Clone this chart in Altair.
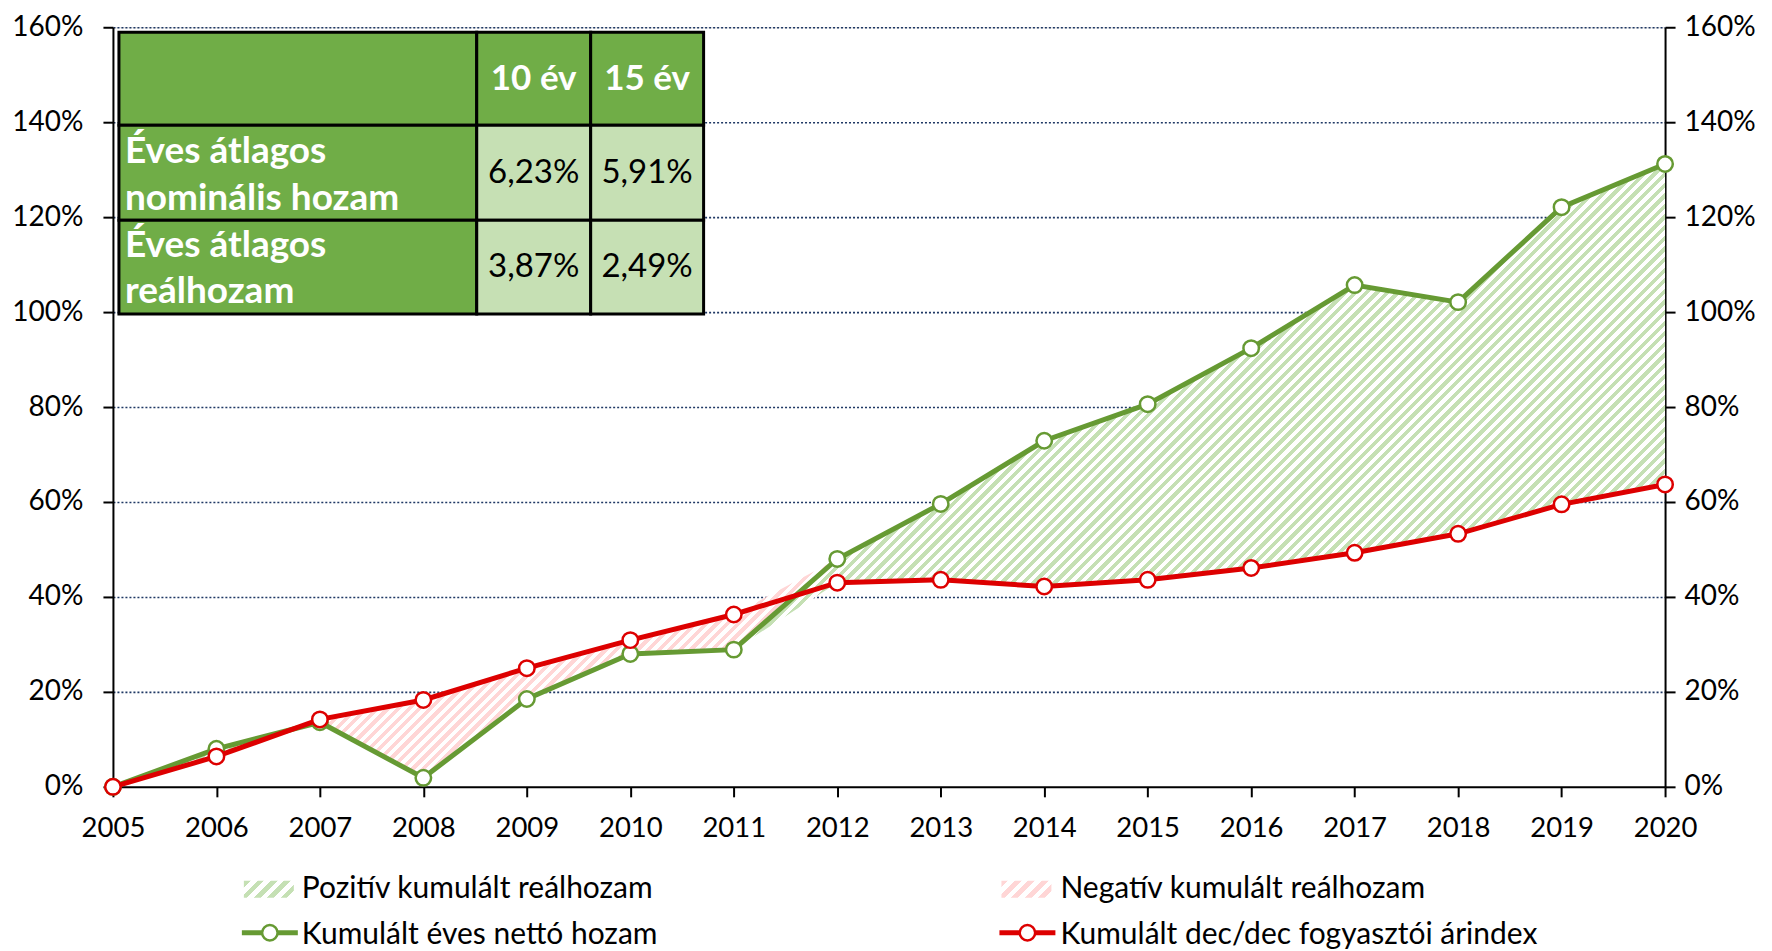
import altair as alt
import pandas as pd

# ---------------- data ----------------
years = list(range(2005, 2021))
nominal = [0.0, 8.0, 13.6, 1.9, 18.5, 28.0, 28.9, 48.0, 59.6, 72.9, 80.6, 92.4, 105.7, 102.1, 122.1, 131.2]
cpi = [0.0, 6.4, 14.2, 18.3, 25.0, 30.9, 36.3, 43.0, 43.6, 42.2, 43.6, 46.1, 49.3, 53.3, 59.5, 63.7]

table_cols = ["10 év", "15 év"]
table_rows = [["Éves átlagos", "nominális hozam"], ["Éves átlagos", "reálhozam"]]
table_vals = [["6,23%", "5,91%"], ["3,87%", "2,49%"]]

legend_labels = ["Pozitív kumulált reálhozam", "Negatív kumulált reálhozam",
                 "Kumulált éves nettó hozam", "Kumulált dec/dec fogyasztói árindex"]

# ---------------- styles ----------------
GREEN = "#669a33"
RED = "#dd0000"
HATCH_G = "#c5e0b4"
HATCH_R = "#ffd6d6"
DARK = "#70ad47"
LIGHT = "#c6e0b4"
FONT = "Lato"
W, H = 1553, 760
TOP = 19
PAGE0 = 8 + TOP  # page y of plot top


def py(page_y):
    return page_y - PAGE0


df = pd.DataFrame({"year": years,
                   "nom": [v / 100 for v in nominal],
                   "cpi": [v / 100 for v in cpi]})
df["base"] = df[["nom", "cpi"]].min(axis=1)
df["pos_top"] = df["base"] + (df["nom"] - df["cpi"]).clip(lower=0)
df["neg_top"] = df["pos_top"] + (df["cpi"] - df["nom"]).clip(lower=0)


def stripes(color, w, h, period, duty=0.5):
    r = h / w
    s = (1 + r) / (1 + r * r)
    length = (w + h) / 2 ** 0.5
    n = max(1, int(length / period))
    stops = []
    for i in range(n):
        a = round(i / n, 6)
        b = round((i + duty) / n, 6)
        c = round((i + 1) / n, 6)
        stops += [alt.GradientStop(offset=a, color=color),
                  alt.GradientStop(offset=b, color=color),
                  alt.GradientStop(offset=b, color="white"),
                  alt.GradientStop(offset=c, color="white")]
    return alt.Gradient(gradient="linear", stops=stops, x1=0, y1=0, x2=s, y2=s * r)


area_h = max(df["neg_top"].max(), df["pos_top"].max()) / 1.6 * H
grad_g = stripes(HATCH_G, W, area_h, 7.5)
grad_r = stripes(HATCH_R, W, area_h, 7.5)
sw_w, sw_h = 50, 17
grad_g_sw = stripes(HATCH_G, sw_w, sw_h, 9)
grad_r_sw = stripes(HATCH_R, sw_w, sw_h, 9)

xscale = alt.Scale(domain=[2005, 2020], nice=False, zero=False)
yscale = alt.Scale(domain=[0, 1.6], nice=False, zero=True)

X = alt.X("year:Q", scale=xscale,
          axis=alt.Axis(values=years, format="d", title=None, grid=False,
                        tickSize=10, tickColor="black", tickWidth=2,
                        domainColor="black", domainWidth=2,
                        labelPadding=18, labelFontSize=27.5, labelFont=FONT,
                        labelColor="black", labelFlush=False))

ticks = [0, 0.2, 0.4, 0.6, 0.8, 1.0, 1.2, 1.4, 1.6]


def yaxis(orient, pad):
    return alt.Axis(orient=orient, values=ticks, format=".0%", title=None, grid=False,
                    tickSize=10, tickColor="black", tickWidth=2,
                    domainColor="black", domainWidth=2,
                    labelPadding=pad, labelFontSize=28, labelFont=FONT,
                    labelColor="black")


grid_axis = alt.Axis(orient="left", values=ticks[1:], title=None, grid=True,
                     labels=False, ticks=False, domain=False,
                     gridDash=[2, 2], gridColor="#1f3864", gridWidth=1.6)

base = alt.Chart(df)

green_area = base.mark_area(fill=grad_g, opacity=1).encode(
    x=X, y=alt.Y("base:Q", scale=yscale, axis=grid_axis), y2="pos_top:Q")
red_area = base.mark_area(fill=grad_r, opacity=1).encode(
    x=X, y=alt.Y("pos_top:Q", scale=yscale, axis=yaxis("left", 20)), y2="neg_top:Q")
green_line = base.mark_line(color=GREEN, strokeWidth=5).encode(
    x=X, y=alt.Y("nom:Q", scale=yscale, axis=yaxis("right", 9)))
green_pts = base.mark_point(shape="circle", filled=True, fill="white", stroke=GREEN,
                            strokeWidth=2.5, size=240, opacity=1).encode(
    x=X, y=alt.Y("nom:Q", scale=yscale, axis=None))
red_line = base.mark_line(color=RED, strokeWidth=5).encode(
    x=X, y=alt.Y("cpi:Q", scale=yscale, axis=None))
red_pts = base.mark_point(shape="circle", filled=True, fill="white", stroke=RED,
                          strokeWidth=2.5, size=240, opacity=1).encode(
    x=X, y=alt.Y("cpi:Q", scale=yscale, axis=None))

layers = [green_area, red_area, green_line, green_pts, red_line, red_pts]

one = pd.DataFrame({"k": [0]})

# ---------------- table (pixel layout) ----------------
col_edges = [6, 364, 478, 591]
row_edges = [py(32), py(125), py(220), py(314)]
for ri in range(3):
    for ci in range(3):
        fillc = LIGHT if (ri > 0 and ci > 0) else DARK
        layers.append(alt.Chart(one).mark_rect(fill=fillc, stroke="black", strokeWidth=3).encode(
            x=alt.value(col_edges[ci]), x2=alt.value(col_edges[ci + 1]),
            y=alt.value(row_edges[ri]), y2=alt.value(row_edges[ri + 1])))

for ci, t in enumerate(table_cols):
    cx = (col_edges[ci + 1] + col_edges[ci + 2]) / 2
    layers.append(alt.Chart(one).mark_text(text=t, font=FONT, fontSize=35, fontWeight="bold",
                                           color="white", align="center", baseline="alphabetic").encode(
        x=alt.value(cx), y=alt.value(py(90))))

label_base = [[py(163), py(210)], [py(257), py(303)]]
val_base = [py(183), py(277)]
for ri in range(2):
    for li, t in enumerate(table_rows[ri]):
        layers.append(alt.Chart(one).mark_text(text=t, font=FONT, fontSize=37, fontWeight="bold",
                                               color="white", align="left", baseline="alphabetic").encode(
            x=alt.value(12), y=alt.value(label_base[ri][li])))
    for ci, t in enumerate(table_vals[ri]):
        cx = (col_edges[ci + 1] + col_edges[ci + 2]) / 2
        layers.append(alt.Chart(one).mark_text(text=t, font=FONT, fontSize=33,
                                               color="black", align="center", baseline="alphabetic").encode(
            x=alt.value(cx), y=alt.value(val_base[ri])))

# ---------------- legend (pixel layout) ----------------
col_x = [131, 889]
text_x = [189, 948]
row1_y, row2_y = py(898), py(944)
line_y = py(933)
for i, g in enumerate([grad_g_sw, grad_r_sw]):
    layers.append(alt.Chart(one).mark_rect(fill=g).encode(
        x=alt.value(col_x[i]), x2=alt.value(col_x[i] + sw_w),
        y=alt.value(row1_y - sw_h), y2=alt.value(row1_y)))
for i, c in enumerate([GREEN, RED]):
    x0 = col_x[i] - 2
    layers.append(alt.Chart(one).mark_rule(color=c, strokeWidth=5).encode(
        x=alt.value(x0), x2=alt.value(x0 + 56), y=alt.value(line_y)))
    layers.append(alt.Chart(one).mark_point(shape="circle", filled=True, fill="white", stroke=c,
                                            strokeWidth=2.5, size=240, opacity=1).encode(
        x=alt.value(x0 + 28), y=alt.value(line_y)))
for i, t in enumerate(legend_labels):
    layers.append(alt.Chart(one).mark_text(text=t, font=FONT, fontSize=30, color="black",
                                           align="left", baseline="alphabetic").encode(
        x=alt.value(text_x[i % 2]), y=alt.value(row1_y if i < 2 else row2_y)))

chart = alt.layer(*layers).resolve_axis(y="independent").properties(
    width=W, height=H,
    autosize=alt.AutoSizeParams(type="none"),
    padding={"left": 105, "top": TOP, "right": 99, "bottom": 164},
    background="white",
).configure_view(stroke=None).configure(font=FONT)

chart.save("out.html", embed_options={"renderer": "svg", "actions": False})
